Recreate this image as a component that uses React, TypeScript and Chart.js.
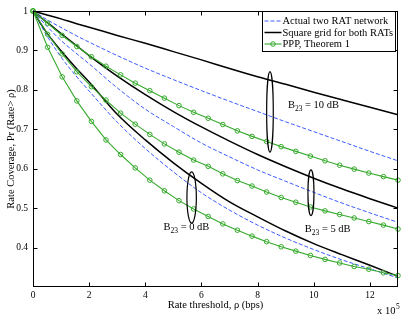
import React, { useEffect, useRef } from "react";
import { Chart, registerables } from "chart.js";

Chart.register(...registerables);

const FONT = '"Liberation Serif", "Times New Roman", Times, serif';

// ---- axes ----
const xTickValues = [0, 2, 4, 6, 8, 10, 12];
const yTickValues = [0.4, 0.5, 0.6, 0.7, 0.8, 0.9, 1];

// ---- x samples (x 10^5 bps) ----
const curveX = [0, 0.5, 1, 1.5, 2, 3, 4, 5, 6, 7, 8, 9, 10, 11, 12, 13];
const markerX = [
  0, 0.52, 1.04, 1.56, 2.08, 2.6, 3.12, 3.64, 4.16, 4.68, 5.2, 5.72, 6.24,
  6.76, 7.28, 7.8, 8.32, 8.84, 9.36, 9.88, 10.4, 10.92, 11.44, 11.96, 12.48, 13,
];

// ---- Square grid for both RATs (black) ----
const grid10 = [1, 0.99, 0.98, 0.969, 0.959, 0.938, 0.918, 0.897, 0.876, 0.854, 0.833, 0.814, 0.794, 0.775, 0.756, 0.737];
const grid5 = [1, 0.971, 0.943, 0.915, 0.887, 0.835, 0.788, 0.745, 0.706, 0.67, 0.636, 0.605, 0.576, 0.549, 0.524, 0.5];
const grid0 = [1, 0.944, 0.899, 0.858, 0.82, 0.738, 0.673, 0.615, 0.563, 0.516, 0.478, 0.442, 0.41, 0.382, 0.355, 0.327];

// ---- Actual two RAT network (blue dashed) ----
const actual10 = [1, 0.978, 0.958, 0.939, 0.921, 0.887, 0.855, 0.826, 0.798, 0.771, 0.745, 0.719, 0.694, 0.669, 0.644, 0.62];
const actual5 = [1, 0.961, 0.925, 0.895, 0.866, 0.805, 0.751, 0.707, 0.665, 0.63, 0.597, 0.568, 0.54, 0.513, 0.488, 0.464];
const actual0 = [1, 0.937, 0.883, 0.838, 0.797, 0.718, 0.651, 0.592, 0.539, 0.495, 0.457, 0.424, 0.395, 0.369, 0.346, 0.323];

// ---- PPP, Theorem 1 (green, circles) ----
const ppp10 = [1, 0.969, 0.938, 0.91, 0.884, 0.86, 0.838, 0.817, 0.798, 0.779, 0.76, 0.743, 0.728, 0.712, 0.696, 0.682, 0.669, 0.656, 0.644, 0.632, 0.62, 0.609, 0.599, 0.589, 0.58, 0.571];
const ppp5 = [1, 0.941, 0.891, 0.846, 0.808, 0.774, 0.741, 0.713, 0.687, 0.663, 0.642, 0.622, 0.606, 0.587, 0.57, 0.556, 0.541, 0.527, 0.515, 0.503, 0.493, 0.484, 0.475, 0.466, 0.457, 0.447];
const ppp0 = [1, 0.908, 0.833, 0.772, 0.72, 0.673, 0.636, 0.602, 0.571, 0.544, 0.519, 0.498, 0.479, 0.46, 0.444, 0.429, 0.415, 0.402, 0.391, 0.38, 0.37, 0.361, 0.352, 0.345, 0.336, 0.329];

// ---- annotations (data coordinates) ----
const ellipses = [
  { cx: 8.44, cy: 0.744, rx: 0.118, ry: 0.102 },
  { cx: 9.9, cy: 0.539, rx: 0.107, ry: 0.058 },
  { cx: 5.65, cy: 0.527, rx: 0.168, ry: 0.065 },
];
const bLabels = [
  { x: 9.08, y: 0.754, db: "10" },
  { x: 9.68, y: 0.4395, db: "5" },
  { x: 4.65, y: 0.4446, db: "0" },
];

const legendLabels = ["Actual two RAT network", "Square grid for both RATs", "PPP, Theorem 1"];

const BLUE = "rgb(60,90,255)";
const BLACK = "#000";
const GREEN = "rgb(55,170,45)";
const DASH = [4, 2];

const toPts = (xs: number[], ys: number[]) => xs.map((x, i) => ({ x, y: ys[i] }));

const greenDs = (data: number[]) => ({
  data: toPts(markerX, data),
  borderColor: GREEN,
  borderWidth: 1.1,
  pointStyle: "circle",
  pointRadius: 2.3,
  pointBorderWidth: 1,
  pointBorderColor: GREEN,
  pointBackgroundColor: "rgba(0,0,0,0)",
  tension: 0,
  clip: false,
});
const blackDs = (data: number[]) => ({
  data: toPts(curveX, data),
  borderColor: BLACK,
  borderWidth: 1.5,
  pointRadius: 0,
  cubicInterpolationMode: "monotone",
  clip: false,
});
const blueDs = (data: number[]) => ({
  data: toPts(curveX, data),
  borderColor: BLUE,
  borderWidth: 1,
  borderDash: DASH,
  pointRadius: 0,
  cubicInterpolationMode: "monotone",
  clip: false,
});

const decorations = {
  id: "decorations",
  afterDatasetsDraw(chart: any) {
    const { ctx, chartArea: a, scales } = chart;
    const xs = scales.x;
    const ys = scales.y;
    ctx.save();
    // ellipses
    ctx.strokeStyle = "#000";
    ctx.lineWidth = 1.2;
    for (const e of ellipses) {
      const cx = xs.getPixelForValue(e.cx);
      const cy = ys.getPixelForValue(e.cy);
      const rx = Math.abs(xs.getPixelForValue(e.cx + e.rx) - cx);
      const ry = Math.abs(ys.getPixelForValue(e.cy + e.ry) - cy);
      ctx.beginPath();
      ctx.ellipse(cx, cy, rx, ry, 0, 0, Math.PI * 2);
      ctx.stroke();
    }
    // B23 labels
    ctx.fillStyle = "#000";
    ctx.textBaseline = "alphabetic";
    ctx.textAlign = "left";
    for (const l of bLabels) {
      let px = xs.getPixelForValue(l.x);
      const py = ys.getPixelForValue(l.y);
      ctx.font = `10.5px ${FONT}`;
      ctx.fillText("B", px, py);
      px += ctx.measureText("B").width;
      ctx.font = `7.5px ${FONT}`;
      ctx.fillText("23", px, py + 3);
      px += ctx.measureText("23").width;
      ctx.font = `10.5px ${FONT}`;
      ctx.fillText(` = ${l.db} dB`, px, py);
    }

    // box
    const L = Math.round(a.left) + 0.5;
    const R = Math.round(a.right) - 0.5;
    const T = Math.round(a.top) + 0.5;
    const B = Math.round(a.bottom) - 0.5;
    ctx.lineWidth = 1;
    ctx.strokeStyle = "#000";
    ctx.strokeRect(L, T, R - L, B - T);
    // inward ticks
    const tl = 4;
    ctx.beginPath();
    for (const v of xTickValues) {
      const p = Math.round(xs.getPixelForValue(v)) + 0.5;
      ctx.moveTo(p, B);
      ctx.lineTo(p, B - tl);
      ctx.moveTo(p, T);
      ctx.lineTo(p, T + tl);
    }
    for (const v of yTickValues) {
      const p = Math.round(ys.getPixelForValue(v)) + 0.5;
      ctx.moveTo(L, p);
      ctx.lineTo(L + tl, p);
      ctx.moveTo(R, p);
      ctx.lineTo(R - tl, p);
    }
    ctx.stroke();

    // legend
    const lx = Math.round(a.right) - 136 + 0.5;
    const ly = Math.round(a.top) + 0.5;
    const lw = 133;
    const lh = 40;
    ctx.fillStyle = "#fff";
    ctx.fillRect(lx, ly, lw, lh);
    ctx.strokeStyle = "#000";
    ctx.lineWidth = 1;
    ctx.strokeRect(lx, ly, lw, lh);
    const rows = [ly + 9.5, ly + 21, ly + 32.5];
    const sx0 = lx + 2;
    const sx1 = lx + 19;
    // blue dashed
    ctx.strokeStyle = BLUE;
    ctx.setLineDash(DASH);
    ctx.beginPath();
    ctx.moveTo(sx0, rows[0]);
    ctx.lineTo(sx1, rows[0]);
    ctx.stroke();
    ctx.setLineDash([]);
    // black
    ctx.strokeStyle = BLACK;
    ctx.lineWidth = 1.5;
    ctx.beginPath();
    ctx.moveTo(sx0, rows[1]);
    ctx.lineTo(sx1, rows[1]);
    ctx.stroke();
    // green
    ctx.strokeStyle = GREEN;
    ctx.lineWidth = 1.1;
    ctx.beginPath();
    ctx.moveTo(sx0, rows[2]);
    ctx.lineTo(sx1, rows[2]);
    ctx.stroke();
    ctx.lineWidth = 1;
    ctx.beginPath();
    ctx.arc((sx0 + sx1) / 2, rows[2], 2.3, 0, Math.PI * 2);
    ctx.stroke();
    ctx.fillStyle = "#000";
    ctx.font = `10.5px ${FONT}`;
    ctx.textBaseline = "middle";
    legendLabels.forEach((t, i) => ctx.fillText(t, sx1 + 1, rows[i] + 0.5));

    // axis titles
    ctx.textBaseline = "alphabetic";
    ctx.textAlign = "center";
    ctx.font = `10.5px ${FONT}`;
    ctx.fillText("Rate threshold, \u03C1 (bps)", (a.left + a.right) / 2, 308);
    ctx.save();
    ctx.translate(13.5, (a.top + a.bottom) / 2);
    ctx.rotate(-Math.PI / 2);
    ctx.fillText("Rate Coverage, Pr (Rate> \u03C1)", 0, 0);
    ctx.restore();
    // x 10^5
    ctx.textAlign = "left";
    ctx.font = `10.5px ${FONT}`;
    ctx.fillText("x 10", 377, 314);
    const w = ctx.measureText("x 10").width;
    ctx.font = `7.5px ${FONT}`;
    ctx.fillText("5", 377 + w + 0.5, 308.5);
    ctx.restore();
  },
};

export default function App() {
  const ref = useRef<HTMLCanvasElement | null>(null);
  useEffect(() => {
    if (!ref.current) return;
    const chart = new Chart(ref.current, {
      type: "line",
      data: {
        datasets: [
          greenDs(ppp10),
          greenDs(ppp5),
          greenDs(ppp0),
          blackDs(grid10),
          blackDs(grid5),
          blackDs(grid0),
          blueDs(actual10),
          blueDs(actual5),
          blueDs(actual0),
        ] as any,
      },
      options: {
        animation: false,
        responsive: false,
        maintainAspectRatio: false,
        events: [],
        layout: { padding: { top: 11, right: 17, left: 0, bottom: 0 } },
        plugins: { legend: { display: false }, tooltip: { enabled: false } },
        scales: {
          x: {
            type: "linear",
            min: 0,
            max: 13,
            grid: { display: false, drawTicks: false },
            border: { display: false },
            ticks: {
              color: "#000",
              font: { family: FONT, size: 9.5 },
              padding: 3,
              maxRotation: 0,
              autoSkip: false,
              callback: (v: any) => String(v),
            },
            afterBuildTicks: (s: any) => {
              s.ticks = xTickValues.map((value) => ({ value }));
            },
            afterFit: (s: any) => {
              s.height = 34;
            },
          },
          y: {
            type: "linear",
            min: 0.3,
            max: 1,
            grid: { display: false, drawTicks: false },
            border: { display: false },
            ticks: {
              color: "#000",
              font: { family: FONT, size: 9.5 },
              padding: 5,
              autoSkip: false,
              callback: (v: any) => String(Number(Number(v).toFixed(1))),
            },
            afterBuildTicks: (s: any) => {
              s.ticks = yTickValues.map((value) => ({ value }));
            },
            afterFit: (s: any) => {
              s.width = 33;
            },
          },
        },
      } as any,
      plugins: [decorations],
    });
    return () => chart.destroy();
  }, []);
  return (
    <div style={{ position: "fixed", left: 0, top: 0, width: 415, height: 321, background: "#fff" }}>
      <canvas ref={ref} width={415} height={321} style={{ display: "block", width: 415, height: 321 }} />
    </div>
  );
}
